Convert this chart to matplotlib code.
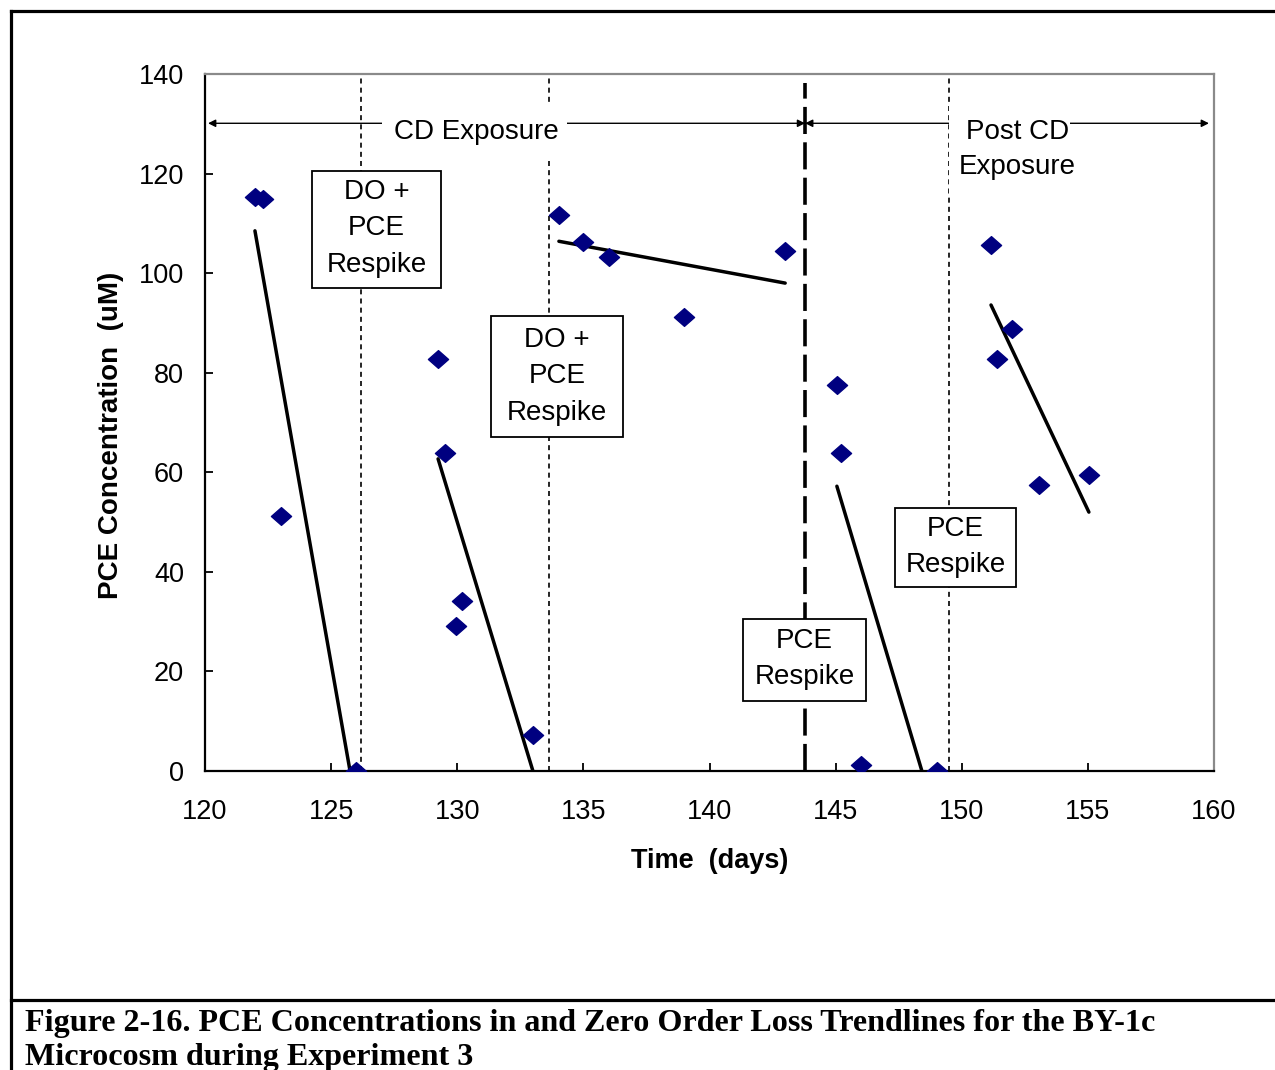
import matplotlib
matplotlib.use("Agg")
import matplotlib.pyplot as plt
from matplotlib.lines import Line2D
from matplotlib.patches import Rectangle
from matplotlib.path import Path

# ---- data ----
days = [122.0, 122.3, 123.0, 126.0, 129.25, 129.5, 129.95, 130.2, 133.0,
        134.05, 135.0, 136.0, 139.0, 143.0, 145.05, 145.2, 146.0, 149.0,
        151.15, 151.4, 152.0, 153.05, 155.05]
pce = [115.3, 114.9, 51.2, 0.0, 82.7, 63.9, 29.1, 34.1, 7.2,
       111.7, 106.2, 103.2, 91.2, 104.4, 77.5, 63.9, 1.2, 0.0,
       105.6, 82.7, 88.8, 57.4, 59.4]

trend_x0 = [121.98, 129.24, 134.03, 145.05, 151.16]
trend_y0 = [108.5, 62.7, 106.4, 57.2, 93.6]
trend_x1 = [125.75, 133.0, 143.0, 148.42, 155.04]
trend_y1 = [0.0, 0.0, 98.0, 0.0, 52.0]

respike_days = [126.18, 133.64, 149.49]
cd_end_day = 143.79

box_labels = ['DO +\nPCE\nRespike', 'DO +\nPCE\nRespike', 'PCE\nRespike', 'PCE\nRespike']

xticks = [120, 125, 130, 135, 140, 145, 150, 155, 160]
yticks = [0, 20, 40, 60, 80, 100, 120, 140]

plt.rcParams['font.family'] = ['Liberation Sans', 'DejaVu Sans']

W, H = 1275, 1070
fig = plt.figure(figsize=(W / 100, H / 100), dpi=100)
ax = fig.add_axes([205 / W, 1 - 771 / H, (1214 - 205) / W, (771 - 74) / H])

ax.set_xlim(120, 160)
ax.set_ylim(0, 140)
ax.set_xticks(xticks)
ax.set_yticks(yticks)
ax.tick_params(direction='in', length=6, width=1.3, labelsize=19.5)
ax.tick_params(axis='x', pad=20)
ax.tick_params(axis='y', pad=15)
for s in ['left', 'bottom']:
    ax.spines[s].set_color('black')
    ax.spines[s].set_linewidth(1.6)
for s in ['top', 'right']:
    ax.spines[s].set_color('#8a8a8a')
    ax.spines[s].set_linewidth(1.6)

ax.set_xlabel('Time  (days)', fontsize=19.5, fontweight='bold')
ax.set_ylabel('PCE Concentration  (uM)', fontsize=20, fontweight='bold')
ax.xaxis.set_label_coords((710 - 205) / 1009, (771 - 861) / 697)
ax.yaxis.set_label_coords((111 - 205) / 1009, (771 - 435) / 697)
ax.xaxis.label.set_va('center')
ax.yaxis.label.set_va('center')

# vertical lines
for d in respike_days:
    ax.axvline(d, color='black', lw=1.2, ls=(0, (3, 2.5)), zorder=1)
ax.plot([cd_end_day, cd_end_day], [0, 138.2], color='black', lw=2.6,
        ls=(0, (7.5, 2.3)), zorder=1)

# trend lines
for x0, y0, x1, y1 in zip(trend_x0, trend_y0, trend_x1, trend_y1):
    ax.plot([x0, x1], [y0, y1], color='black', lw=2.5, solid_capstyle='round', zorder=3)

# markers
diamond = Path([(-1, 0), (0, 0.88), (1, 0), (0, -0.88), (-1, 0)],
               [Path.MOVETO, Path.LINETO, Path.LINETO, Path.LINETO, Path.CLOSEPOLY])
ax.plot(days, pce, ls='none', marker=diamond, markersize=14.5,
        color='#000080', markeredgecolor='#000080', zorder=5)

# arrows
arrow_y = 130.1
ap = dict(arrowstyle='<|-|>', lw=1.0, color='black', mutation_scale=11,
          shrinkA=0, shrinkB=0)
ax.annotate('', xy=(120.12, arrow_y), xytext=(cd_end_day, arrow_y), arrowprops=ap, zorder=2)
ax.annotate('', xy=(cd_end_day, arrow_y), xytext=(159.8, arrow_y), arrowprops=ap, zorder=2)

# white masks behind the exposure labels
ax.add_patch(Rectangle((127.02, 123.3), 134.35 - 127.02, 133.8 - 123.3,
                       facecolor='white', edgecolor='none', zorder=4))
ax.add_patch(Rectangle((149.5, 115.7), 154.3 - 149.5, 133.8 - 115.7,
                       facecolor='white', edgecolor='none', zorder=4))
ax.text(130.75, 128.3, 'CD Exposure', fontsize=20, ha='center', va='center', zorder=6)
ax.text(152.2, 124.8, 'Post CD\nExposure', fontsize=20, ha='center', va='center',
        linespacing=1.45, zorder=6)

# respike boxes (explicit rectangles + centred text)
boxes = [(124.24, 97.0, 129.36, 120.5),
         (131.34, 67.1, 136.57, 91.4),
         (141.33, 14.1, 146.2, 30.5),
         (147.35, 37.0, 152.15, 52.8)]
text_centres = [(126.8, 109.0), (133.95, 79.3), (143.77, 22.5), (149.75, 45.0)]
for (x0, y0, x1, y1), (tx, ty), lab in zip(boxes, text_centres, box_labels):
    ax.add_patch(Rectangle((x0, y0), x1 - x0, y1 - y0, facecolor='white',
                           edgecolor='black', lw=1.3, zorder=6))
    ax.text(tx, ty, lab, fontsize=20, ha='center', va='center',
            linespacing=1.52, zorder=7)

# page frame
def fx(px):
    return px / W

def fy(py):
    return 1 - py / H

for xs, ys in [([10.5, 10.5], [10.5, 1070]), ([10.5, 1275], [10.5, 10.5]),
               ([10.5, 1275], [999.5, 999.5])]:
    fig.add_artist(Line2D([fx(x) for x in xs], [fy(y) for y in ys],
                          transform=fig.transFigure, color='black', lw=2.3))

cap_kw = dict(fontsize=23.1, fontweight='bold', family=['Liberation Serif', 'DejaVu Serif'],
              ha='left', va='baseline')
fig.text(fx(25), fy(1031), 'Figure 2-16. PCE Concentrations in and Zero Order Loss Trendlines for the BY-1c', **cap_kw)
fig.text(fx(25), fy(1065), 'Microcosm during Experiment 3', **cap_kw)

fig.savefig('out.png', dpi=100)
